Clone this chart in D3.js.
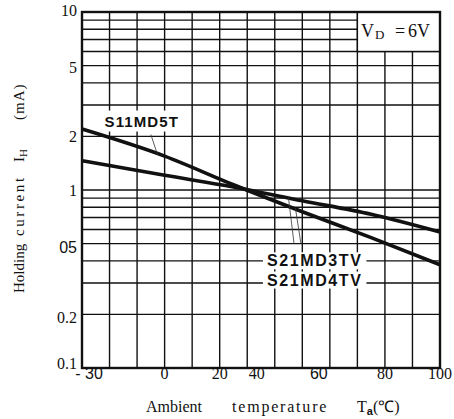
<!DOCTYPE html>
<html><head><meta charset="utf-8">
<script src="https://cdn.jsdelivr.net/npm/d3@7"></script>
<style>
html,body{margin:0;padding:0;background:#fff;}
svg{display:block;}
</style></head>
<body>
<svg id="c" width="454" height="419"></svg>
<script>
// ---- data ----
const temps = [-30, 0, 25, 50, 75, 100];
const s11md5t = [2.20, 1.55, 1.07, 0.755, 0.54, 0.38];
const s21md34tv = [1.46, 1.21, 1.04, 0.87, 0.73, 0.58];
const xTickValues = [-30, 0, 20, 40, 60, 80, 100];
const xTickLabels = ["- 30", "0", "20", "40", "60", "80", "100"];
const yTickValues = [10, 5, 2, 1, 0.5, 0.2, 0.1];
const yTickLabels = ["10", "5", "2", "1", "05", "0.2", "0.1"];
const xGridValues = d3.range(-20, 100, 10);
const yGridValues = [0.2,0.3,0.4,0.5,0.6,0.7,0.8,0.9,1,2,3,4,5,6,7,8,9];

// ---- layout ----
const L = 82, R = 440, T = 12, B = 368;
const svg = d3.select("#c");
const x = d3.scaleLinear().domain([-30, 100]).range([L, R]);
const y = d3.scaleLog().domain([0.1, 10]).range([B, T]);
const ink = "#111";
const serif = "'Liberation Serif','Times New Roman',serif";
const sans = "'Liberation Sans',Arial,sans-serif";

// grid
const g = svg.append("g");
g.selectAll("line.v").data(xGridValues).join("line")
  .attr("x1", d => x(d)).attr("x2", d => x(d)).attr("y1", T).attr("y2", B)
  .attr("stroke", ink).attr("stroke-width", 1.4);
g.selectAll("line.h").data(yGridValues).join("line")
  .attr("x1", L).attr("x2", R).attr("y1", d => y(d)).attr("y2", d => y(d))
  .attr("stroke", ink).attr("stroke-width", 1.4);

// V_D box (white, covers grid)
svg.append("rect")
  .attr("x", x(70)).attr("y", y(10)).attr("width", x(100) - x(70)).attr("height", y(6) - y(10))
  .attr("fill", "#fff").attr("stroke", ink).attr("stroke-width", 1.4);
const vd = svg.append("text")
  .attr("y", 37)
  .attr("font-family", serif).attr("font-size", 18).attr("fill", ink);
vd.append("tspan").attr("x", 361).text("V");
vd.append("tspan").attr("x", 375).attr("font-size", 13).attr("dy", 2).text("D");
vd.append("tspan").attr("x", 395).attr("dy", -2).text("=");
vd.append("tspan").attr("x", 408).text("6V");

// curves
const line = d3.line().x(d => x(d[0])).y(d => y(d[1])).curve(d3.curveMonotoneX);
svg.append("path").datum(temps.map((t, i) => [t, s11md5t[i]]))
  .attr("d", line).attr("fill", "none").attr("stroke", ink).attr("stroke-width", 3.6);
svg.append("path").datum(temps.map((t, i) => [t, s21md34tv[i]]))
  .attr("d", line).attr("fill", "none").attr("stroke", ink).attr("stroke-width", 3.6);

// labels with white backgrounds
function label(txt, tx, vy, size, ls, padX, padY) {
  const gg = svg.append("g");
  const rect = gg.append("rect").attr("fill", "#fff");
  const t = gg.append("text")
    .attr("x", x(tx)).attr("y", y(vy))
    .attr("text-anchor", "middle").attr("dominant-baseline", "central")
    .attr("font-family", sans).attr("font-weight", "bold")
    .attr("font-size", size).attr("letter-spacing", ls).attr("fill", ink).text(txt);
  const bb = t.node().getBBox();
  rect.attr("x", bb.x - padX).attr("y", bb.y - padY)
    .attr("width", bb.width + 2 * padX).attr("height", bb.height + 2 * padY);
}
label("S11MD5T", -8.3, 2.44, 15, 1.1, 5, 2);
label("S21MD3TV", 54.5, 0.40, 16, 1.6, 4, 0);
label("S21MD4TV", 54.5, 0.312, 16, 1.6, 4, 0);

// leader lines
const leaders = [
  [[-5, 2.05], [-2.6, 1.58]],
  [[45, 0.90], [47, 0.50]],
  [[47.5, 0.79], [49.5, 0.50]]
];
svg.selectAll("line.lead").data(leaders).join("line")
  .attr("x1", d => x(d[0][0])).attr("y1", d => y(d[0][1]))
  .attr("x2", d => x(d[1][0])).attr("y2", d => y(d[1][1]))
  .attr("stroke", "#333").attr("stroke-width", 0.8);

// frame
svg.append("rect").attr("x", L).attr("y", T).attr("width", R - L).attr("height", B - T)
  .attr("fill", "none").attr("stroke", ink).attr("stroke-width", 2.4);

// x tick labels (small nudges mimic the original's hand placement)
const xNudge = {40: -18, 60: -11, "-30": 7, 100: 0};
svg.selectAll("text.xt").data(xTickValues).join("text")
  .attr("x", (d) => x(d) + (xNudge[d] || 0)).attr("y", 379)
  .attr("text-anchor", "middle")
  .attr("font-family", (d, i) => (d === -30 || d === 60) ? sans : serif)
  .attr("font-size", 16).attr("fill", ink)
  .text((d, i) => xTickLabels[i]);

// y tick labels (small vertical nudges as in the original)
const yNudge = {10: -2, 5: 2, 0.5: 4, 0.2: 3, 0.1: -5};
svg.selectAll("text.yt").data(yTickValues).join("text")
  .attr("x", 77).attr("y", d => y(d) + (yNudge[d] || 0))
  .attr("text-anchor", "end").attr("dominant-baseline", "central")
  .attr("font-family", (d, i) => yTickLabels[i] === "05" ? sans : serif)
  .attr("font-size", 16).attr("fill", ink)
  .text((d, i) => yTickLabels[i]);

// y axis title (rotated; x positions run along the rotated baseline)
const yt = svg.append("text")
  .attr("transform", "translate(24,186) rotate(-90)")
  .attr("font-family", serif).attr("font-size", 15).attr("fill", ink);
yt.append("tspan").attr("x", -107).text("Holding");
yt.append("tspan").attr("x", -50).attr("letter-spacing", 2.6).text("current");
yt.append("tspan").attr("x", 24).text("I");
yt.append("tspan").attr("font-size", 11).attr("dy", 3).text("H");
yt.append("tspan").attr("x", 66).attr("dy", -3).attr("letter-spacing", 1).text("(mA)");

// x axis title
const xt = svg.append("text")
  .attr("y", 412)
  .attr("font-family", serif).attr("font-size", 16).attr("fill", ink);
xt.append("tspan").attr("x", 146).text("Ambient");
xt.append("tspan").attr("x", 232).attr("letter-spacing", 1.8).text("temperature");
xt.append("tspan").attr("x", 357).text("T");
xt.append("tspan").attr("font-size", 11).attr("font-family", sans).attr("font-weight", "bold").attr("dy", 3).text("a");
xt.append("tspan").attr("dy", -3).text("(℃)");
</script>
</body></html>
